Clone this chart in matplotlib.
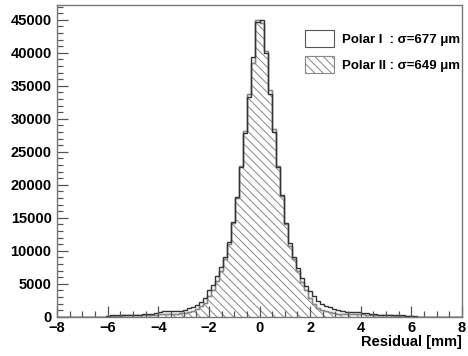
import numpy as np
import matplotlib
matplotlib.use("Agg")
import matplotlib.pyplot as plt
from matplotlib.patches import Patch
from matplotlib.ticker import MultipleLocator

# residual histograms, 100 bins from -8 to 8 mm
xmin, xmax, nbins = -8, 8, 100

# Polar I (hollow), left half outer->centre, right half centre->outer
polar1_left = [0] * 12 + [200, 220, 250, 260, 270, 280, 300, 320, 350, 380,
                          420, 480, 580, 720, 820, 880, 900, 850, 950, 1100,
                          1300, 1500, 1800, 2200, 2900, 4100, 4800, 6200, 7600, 9100,
                          11400, 14400, 18200, 22700, 27900, 33300, 39300, 44600]
polar1_right = [45000, 39900, 33800, 28000, 22700, 18500, 14200, 11200, 9100, 7400,
                5900, 4700, 3900, 3100, 2400, 2000, 1700, 1450, 1200, 1050,
                900, 800, 720, 680, 700, 650, 520, 440, 390, 350,
                320, 300, 280, 260, 240, 220, 200, 190, 180] + [0] * 11

# Polar II (hatched)
polar2_left = [0] * 12 + [150, 170, 190, 200, 220, 240, 260, 280, 300, 320,
                          330, 340, 350, 370, 390, 410, 440, 480, 540, 620,
                          750, 950, 1200, 1600, 2100, 3100, 4000, 5400, 7000, 8800,
                          11000, 14200, 18000, 22900, 28200, 33800, 38500, 45000]
polar2_right = [44500, 40300, 34300, 28500, 22900, 18300, 14000, 10800, 8800, 6900,
                5300, 4000, 2900, 2000, 1400, 1050, 820, 660, 540, 470,
                430, 410, 400, 390, 380, 360, 340, 320, 300, 280,
                260, 240, 220, 200, 180, 160, 150, 140] + [0] * 12

polar1 = np.array(polar1_left + polar1_right)
polar2 = np.array(polar2_left + polar2_right)
edges = np.linspace(xmin, xmax, nbins + 1)

labels = ["Polar I  : \u03c3=677 \u03bcm", "Polar II : \u03c3=649 \u03bcm"]

plt.rcParams['font.family'] = ['Liberation Sans', 'DejaVu Sans']
plt.rcParams['font.weight'] = 'bold'
plt.rcParams['hatch.linewidth'] = 0.7
plt.rcParams['hatch.color'] = '#888888'

fig = plt.figure(figsize=(4.68, 3.56), dpi=100)
ax = fig.add_axes([0.122, 0.110, 0.865, 0.876])

ax.stairs(polar2, edges, fill=True, facecolor='white', edgecolor='#888888',
          hatch='\\\\\\\\', linewidth=1.0)
ax.stairs(polar2, edges, fill=False, edgecolor='#888888', linewidth=1.0)
ax.stairs(polar1, edges, fill=False, edgecolor='#333333', linewidth=1.0)

ax.set_xlim(xmin, xmax)
ax.set_ylim(0, 1.05 * max(polar1.max(), polar2.max()))

ax.xaxis.set_major_locator(MultipleLocator(2))
ax.xaxis.set_minor_locator(MultipleLocator(0.5))
ax.yaxis.set_major_locator(MultipleLocator(5000))
ax.yaxis.set_minor_locator(MultipleLocator(1000))
ax.tick_params(which='both', direction='in', color='#555555', labelsize=10.5,
               top=False, right=False)
ax.tick_params(which='major', length=8, width=0.9)
ax.tick_params(which='minor', length=4, width=0.9)
ax.tick_params(axis='x', pad=3)
ax.tick_params(axis='y', pad=4)
for s in ax.spines.values():
    s.set_color('#777777')
    s.set_linewidth(1.0)

ax.set_xlabel('Residual [mm]', loc='right', fontsize=10.5, fontweight='bold', labelpad=0)

handles = [Patch(facecolor='white', edgecolor='#555555', linewidth=0.8),
           Patch(facecolor='white', edgecolor='#888888', hatch='\\\\\\\\', linewidth=0.8)]
ax.legend(handles, labels, loc='upper left', bbox_to_anchor=(0.652, 0.915),
          bbox_transform=fig.transFigure, frameon=False, fontsize=9.5,
          handlelength=2.2, handleheight=1.6, labelspacing=0.7,
          handletextpad=0.6, borderpad=0, borderaxespad=0)

fig.savefig('out.png', dpi=100)
